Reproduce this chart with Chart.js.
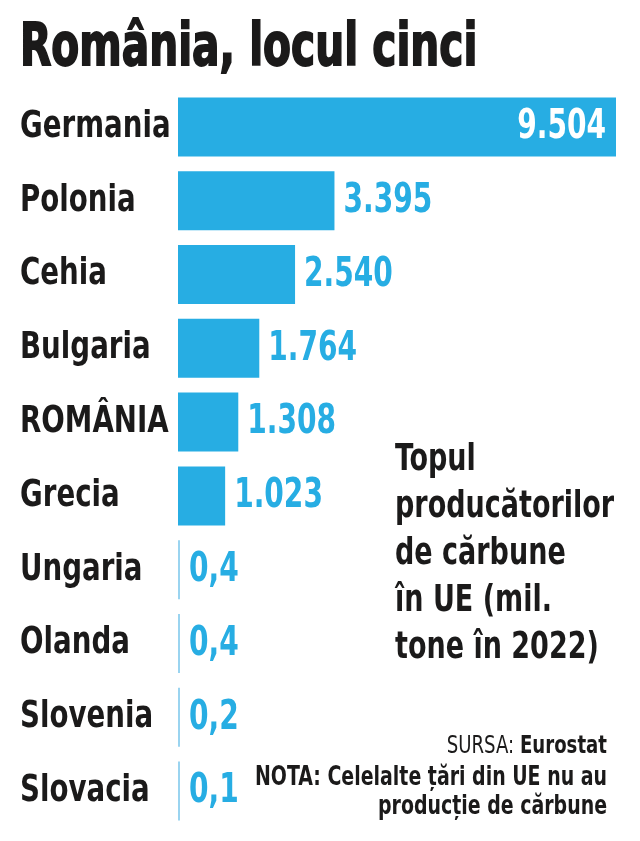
<!DOCTYPE html>
<html lang="ro">
<head>
<meta charset="utf-8">
<title>România, locul cinci</title>
<script src="https://cdn.jsdelivr.net/npm/chart.js@4.4.1/dist/chart.umd.min.js"></script>
<style>
  html, body { margin: 0; padding: 0; background: #fff; }
  #wrap { position: relative; width: 640px; height: 841px; }
</style>
</head>
<body>
<div id="wrap"><canvas id="chart" width="640" height="841"></canvas></div>
<script>
// Data (mil. tone, 2022)
const countries = ['Germania', 'Polonia', 'Cehia', 'Bulgaria', 'ROMÂNIA', 'Grecia', 'Ungaria', 'Olanda', 'Slovenia', 'Slovacia'];
const production = [9504, 3395, 2540, 1764, 1308, 1023, 0.4, 0.4, 0.2, 0.1];
const valueLabels = ['9.504', '3.395', '2.540', '1.764', '1.308', '1.023', '0,4', '0,4', '0,2', '0,1'];

const titleText = 'România, locul cinci';
const noteLines = ['Topul', 'producătorilor', 'de cărbune', 'în UE (mil.', 'tone în 2022)'];
const sourceLabel = 'SURSA: ';
const sourceName = 'Eurostat';
const footLines = ['NOTA: Celelalte țări din UE nu au', 'producție de cărbune'];

const BLUE = '#27ade3';
const BLUE_THIN = '#9ad4f0';
const INK = '#1b1a1a';
const FONT = '"DejaVu Sans Condensed", "DejaVu Sans", sans-serif';
const SQUEEZE = 0.78; // no narrow face installed, so condense by hand

// fillText with a horizontal squeeze
function drawText(ctx, text, x, y, align, sx, stroke) {
  ctx.save();
  ctx.translate(x, y);
  ctx.scale(sx, 1);
  ctx.textAlign = align;
  ctx.fillText(text, 0, 0);
  if (stroke) ctx.strokeText(text, 0, 0);
  ctx.restore();
}

// category names, placed on the y scale's ticks
const categoryLabelPlugin = {
  id: 'categoryLabels',
  afterDraw(chart) {
    const ctx = chart.ctx;
    const y = chart.scales.y;
    ctx.save();
    ctx.fillStyle = INK;
    ctx.font = 'bold 38px ' + FONT;
    ctx.textBaseline = 'middle';
    chart.data.labels.forEach((name, i) => {
      drawText(ctx, name, 20, y.getPixelForTick(i), 'left', 0.81);
    });
    ctx.restore();
  }
};

// draws the value next to / inside each bar
const valueLabelPlugin = {
  id: 'valueLabels',
  afterDatasetsDraw(chart) {
    const ctx = chart.ctx;
    const meta = chart.getDatasetMeta(0);
    ctx.save();
    ctx.font = 'bold 40px ' + FONT;
    ctx.textBaseline = 'middle';
    meta.data.forEach((bar, i) => {
      if (i === 0) {
        ctx.fillStyle = '#ffffff';
        drawText(ctx, valueLabels[i], bar.x - 10, bar.y + 1, 'right', SQUEEZE);
      } else {
        ctx.fillStyle = BLUE;
        drawText(ctx, valueLabels[i], bar.x + 9, bar.y + 1, 'left', SQUEEZE);
      }
    });
    ctx.restore();
  }
};

// title, side note and source
const textPlugin = {
  id: 'texts',
  afterDraw(chart) {
    const ctx = chart.ctx;
    ctx.save();
    ctx.fillStyle = INK;
    ctx.strokeStyle = INK;
    ctx.textBaseline = 'alphabetic';

    ctx.font = 'bold 58px ' + FONT;
    ctx.lineWidth = 1.8;
    drawText(ctx, titleText, 20, 65, 'left', SQUEEZE, true);

    ctx.font = 'bold 38px ' + FONT;
    noteLines.forEach((line, i) => {
      drawText(ctx, line, 395, 470 + i * 47, 'left', 0.79);
    });

    // SURSA: regular + bold, right aligned
    const right = 607;
    const sxSrc = 0.84;
    ctx.font = 'bold 24px ' + FONT;
    const wName = ctx.measureText(sourceName).width * sxSrc;
    drawText(ctx, sourceName, right, 753, 'right', sxSrc);
    ctx.font = '24px ' + FONT;
    drawText(ctx, sourceLabel, right - wName, 753, 'right', sxSrc);

    ctx.font = 'bold 27px ' + FONT;
    footLines.forEach((line, i) => {
      drawText(ctx, line, right, 785 + i * 29, 'right', SQUEEZE);
    });
    ctx.restore();
  }
};

const chart = new Chart(document.getElementById('chart'), {
  type: 'bar',
  data: {
    labels: countries,
    datasets: [{
      data: production,
      backgroundColor: c => (c.raw < 1 ? BLUE_THIN : BLUE),
      borderWidth: 0,
      barPercentage: 0.8,
      categoryPercentage: 1,
      minBarLength: 2
    }]
  },
  options: {
    indexAxis: 'y',
    responsive: false,
    animation: false,
    devicePixelRatio: 1,
    layout: {
      padding: { left: 20, right: 24, top: 90, bottom: 13 }
    },
    plugins: {
      legend: { display: false },
      tooltip: { enabled: false },
      title: { display: false }
    },
    scales: {
      x: {
        display: false,
        min: 0,
        max: Math.max(...production)
      },
      y: {
        grid: { display: false },
        border: { display: false },
        ticks: { display: false },
        afterFit(scale) {
          scale.width = 158;
        }
      }
    }
  },
  plugins: [valueLabelPlugin, categoryLabelPlugin, textPlugin]
});
</script>
</body>
</html>
